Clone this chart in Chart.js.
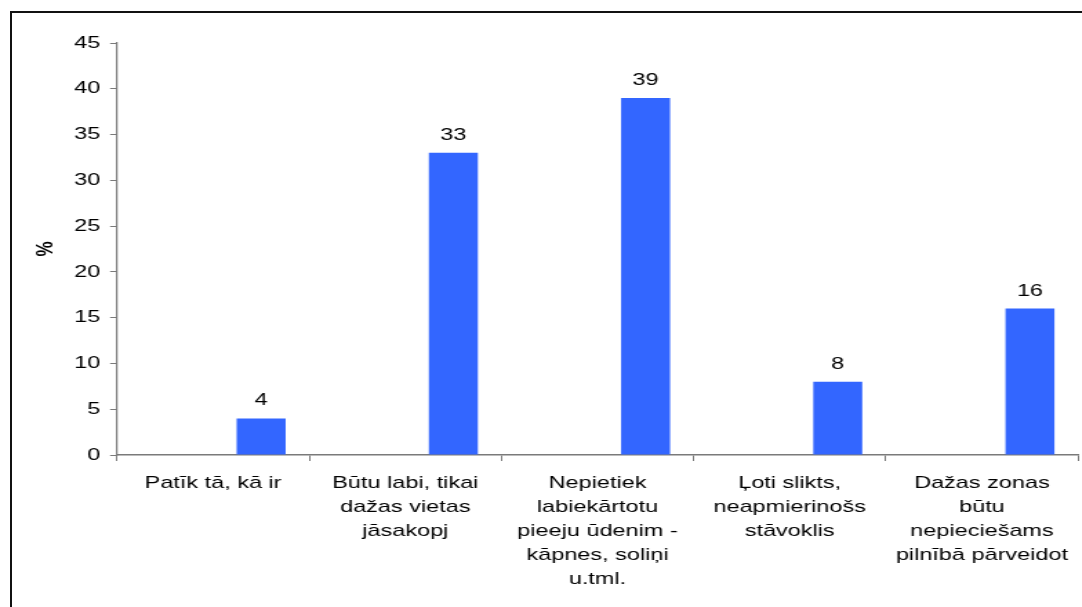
<!DOCTYPE html>
<html>
<head>
<meta charset="utf-8">
<script src="https://cdn.jsdelivr.net/npm/chart.js@4"></script>
<style>
  html, body { margin: 0; padding: 0; background: #fff; overflow: hidden; }
  #frame {
    position: absolute; left: 10px; top: 11px; width: 2000px; height: 2000px;
    border-left: 2px solid #111; border-top: 2px solid #111;
  }
  /* the reference text is stretched sideways, so the chart is drawn narrow and widened */
  #chart {
    position: absolute; left: 0; top: 0;
    width: 784px; height: 607px;
    transform: scaleX(1.38); transform-origin: 0 0;
  }
</style>
</head>
<body>
<div id="frame"></div>
<canvas id="chart" width="784" height="607"></canvas>
<script>
const categories = [
    ['Patīk tā, kā ir'],
    ['Būtu labi, tikai', 'dažas vietas', 'jāsakopj'],
    ['Nepietiek', 'labiekārtotu', 'pieeju ūdenim -', 'kāpnes, soliņi', 'u.tml.'],
    ['Ļoti slikts,', 'neapmierinošs', 'stāvoklis'],
    ['Dažas zonas', 'būtu', 'nepieciešams', 'pilnībā pārveidot']
];
// first series in the source is empty, it only pushes the bars to the right
const emptySeries = [null, null, null, null, null];
const percentValues = [4, 33, 39, 8, 16];
const yTicks = [0, 5, 10, 15, 20, 25, 30, 35, 40, 45];

const stretch = 1.38;
const fontFamily = '"Liberation Sans", Arial, sans-serif';
const axisColor = '#7a7a7a';

// draws the value above each bar
const valueLabels = {
    id: 'valueLabels',
    afterDatasetsDraw(chart) {
        const ctx = chart.ctx;
        const meta = chart.getDatasetMeta(1);
        ctx.save();
        ctx.font = '17px ' + fontFamily;
        ctx.fillStyle = '#000';
        ctx.textAlign = 'center';
        ctx.textBaseline = 'alphabetic';
        meta.data.forEach((bar, i) => {
            ctx.fillText(String(percentValues[i]), bar.x, bar.y - 13);
        });
        ctx.restore();
    }
};

const data = {
    labels: categories,
    datasets: [{
        label: 'tukšs',
        data: emptySeries,
        backgroundColor: 'rgba(0,0,0,0)'
    }, {
        label: '%',
        data: percentValues,
        backgroundColor: '#3366ff',
        borderWidth: 0
    }]
};

const config = {
    type: 'bar',
    data,
    options: {
        responsive: false,
        animation: false,
        categoryPercentage: 1,
        barPercentage: 0.51,
        layout: {
            padding: { top: 43, right: 1, left: 0, bottom: 0 }
        },
        plugins: {
            legend: { display: false },
            tooltip: { enabled: false }
        },
        scales: {
            x: {
                grid: {
                    drawOnChartArea: false,
                    tickLength: 6,
                    color: axisColor
                },
                border: { color: axisColor, width: 1.5 },
                ticks: {
                    color: '#000',
                    padding: 10,
                    maxRotation: 0,
                    autoSkip: false,
                    font: { family: fontFamily, size: 17, lineHeight: 1.42 }
                },
                afterFit(scale) { scale.height = 152; }
            },
            y: {
                min: 0,
                max: 45,
                afterBuildTicks(scale) {
                    scale.ticks = yTicks.map(v => ({ value: v }));
                },
                grid: {
                    drawOnChartArea: false,
                    tickLength: 5,
                    color: axisColor
                },
                border: { color: axisColor, width: 1.2 },
                ticks: {
                    color: '#000',
                    padding: 7,
                    font: { family: fontFamily, size: 17 }
                },
                title: {
                    display: true,
                    text: '%',
                    color: '#000',
                    padding: { top: 23, bottom: 0 },
                    font: { family: fontFamily, size: 17, weight: 'bold' }
                },
                afterFit(scale) { scale.width = 117 / stretch; }
            }
        }
    },
    plugins: [valueLabels]
};

new Chart(document.getElementById('chart'), config);
</script>
</body>
</html>
